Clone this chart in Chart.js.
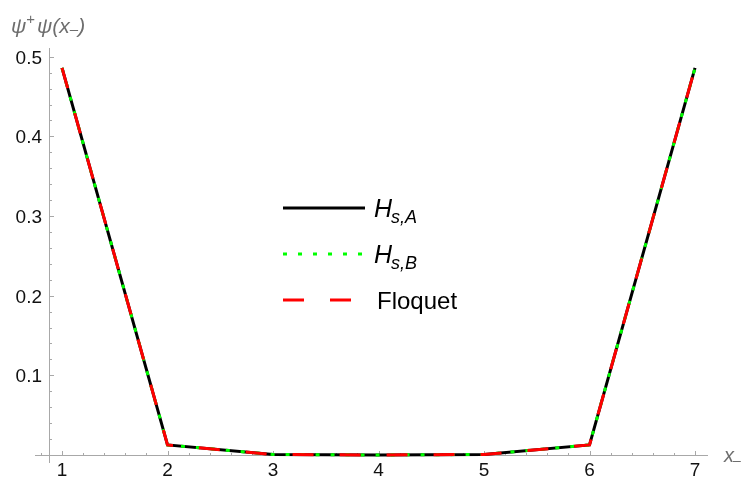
<!DOCTYPE html>
<html>
<head>
<meta charset="utf-8">
<script src="https://cdn.jsdelivr.net/npm/chart.js@4"></script>
<style>
html,body{margin:0;padding:0;background:#fff;}
canvas{display:block;}
</style>
</head>
<body>
<canvas id="c" width="742" height="479"></canvas>
<script>
// ---- data ----
const xValues = [1, 2, 3, 4, 5, 6, 7];
const hsA = [0.486, 0.0126, 0.0006, 0.0, 0.0006, 0.0126, 0.486];
const hsB = [0.486, 0.0126, 0.0006, 0.0, 0.0006, 0.0126, 0.486];
const floquet = [0.486, 0.0126, 0.0006, 0.0, 0.0006, 0.0126, 0.486];
const xTickLabels = ['1', '2', '3', '4', '5', '6', '7'];
const yTickValues = [0.1, 0.2, 0.3, 0.4, 0.5];
const yTickLabels = ['0.1', '0.2', '0.3', '0.4', '0.5'];
const seriesNames = ['H', 'H', 'Floquet'];
const seriesSubs = ['s,A', 's,B', ''];

const pts = arr => xValues.map((x, i) => ({x: x, y: arr[i]}));

const Y_AXIS_AT = 0.877;
const AXIS_COLOR = '#a8a8a8';
const LABEL_COLOR = '#6e6e6e';
const FONT = '"Liberation Sans", Arial, sans-serif';

const styles = [
  {color: '#000000', dash: []},
  {color: '#00ff00', dash: [4, 11]},
  {color: '#ff0000', dash: [21, 26]}
];

const mPlugin = {
  id: 'mathematicaAxes',
  beforeDatasetsDraw(chart) {
    const {ctx, chartArea: a, scales: {x, y}} = chart;
    ctx.save();
    ctx.strokeStyle = AXIS_COLOR;
    ctx.lineWidth = 1;
    const y0 = Math.round(y.getPixelForValue(0)) + 0.5;
    const x0 = Math.round(x.getPixelForValue(Y_AXIS_AT)) + 0.5;
    ctx.beginPath();
    ctx.moveTo(a.left, y0); ctx.lineTo(a.right, y0);
    ctx.moveTo(x0, a.top); ctx.lineTo(x0, a.bottom);
    // x ticks
    for (let k = 4; k <= 35; k++) {
      const v = k / 5;
      const px = Math.round(x.getPixelForValue(v)) + 0.5;
      const len = (k % 5 === 0) ? 4.5 : 2.5;
      ctx.moveTo(px, y0); ctx.lineTo(px, y0 - len);
    }
    // y ticks
    for (let k = 1; k <= 25; k++) {
      const v = k / 50;
      const py = Math.round(y.getPixelForValue(v)) + 0.5;
      const len = (k % 5 === 0) ? 4.5 : 2.5;
      ctx.moveTo(x0, py); ctx.lineTo(x0 + len, py);
    }
    ctx.stroke();
    ctx.restore();
  },
  afterDraw(chart) {
    const {ctx, scales: {x, y}} = chart;
    ctx.save();
    // tick labels
    ctx.fillStyle = '#111';
    ctx.font = '19px ' + FONT;
    ctx.textAlign = 'center';
    ctx.textBaseline = 'alphabetic';
    xTickLabels.forEach((t, i) => {
      ctx.fillText(t, x.getPixelForValue(xValues[i]), 476);
    });
    ctx.textAlign = 'right';
    yTickLabels.forEach((t, i) => {
      ctx.fillText(t, 42, y.getPixelForValue(yTickValues[i]) + 7);
    });
    // axis labels
    ctx.fillStyle = LABEL_COLOR;
    ctx.textAlign = 'left';
    let cx = 11;
    const big = 'italic 21px ' + FONT;
    const small = 'italic 15px ' + FONT;
    const put = (s, f, dy) => { ctx.font = f; ctx.fillText(s, cx, 33 + dy); cx += ctx.measureText(s).width; };
    put('ψ', big, 0);
    put('+', '15px ' + FONT, -9);
    cx += 2;
    put('ψ(x', big, 0);
    put('–', small, 1);
    put(')', big, 0);
    ctx.font = 'italic 20px ' + FONT;
    ctx.fillText('x', 724, 462);
    ctx.font = '14px ' + FONT;
    ctx.fillText('–', 733, 465);
    // legend
    const rows = [208, 254, 300];
    styles.forEach((s, i) => {
      ctx.save();
      ctx.strokeStyle = s.color;
      ctx.lineWidth = 3;
      ctx.setLineDash(s.dash);
      ctx.beginPath();
      ctx.moveTo(283, rows[i]); ctx.lineTo(365, rows[i]);
      ctx.stroke();
      ctx.restore();
      ctx.fillStyle = '#000';
      if (seriesSubs[i]) {
        ctx.font = 'italic 25px ' + FONT;
        ctx.fillText(seriesNames[i], 374, rows[i] + 9);
        const w = ctx.measureText(seriesNames[i]).width;
        ctx.font = 'italic 18px ' + FONT;
        ctx.fillText(seriesSubs[i], 374 + w - 1, rows[i] + 15);
      } else {
        ctx.font = '24px ' + FONT;
        ctx.fillText(seriesNames[i], 377, rows[i] + 9);
      }
    });
    ctx.restore();
  }
};

new Chart(document.getElementById('c'), {
  type: 'line',
  data: {
    datasets: [
      {label: 'Hs,A', data: pts(hsA), borderColor: styles[0].color, borderDash: styles[0].dash, borderWidth: 3, pointRadius: 0, tension: 0, order: 3},
      {label: 'Hs,B', data: pts(hsB), borderColor: styles[1].color, borderDash: styles[1].dash, borderWidth: 3, pointRadius: 0, tension: 0, order: 2},
      {label: 'Floquet', data: pts(floquet), borderColor: styles[2].color, borderDash: styles[2].dash, borderWidth: 3, pointRadius: 0, tension: 0, order: 1}
    ]
  },
  options: {
    responsive: false,
    devicePixelRatio: 1,
    animation: false,
    layout: {padding: {left: 35, right: 34, top: 48, bottom: 16}},
    plugins: {legend: {display: false}, tooltip: {enabled: false}},
    scales: {
      x: {type: 'linear', min: 0.744, max: 7.123, display: false},
      y: {type: 'linear', min: -0.0101, max: 0.511, display: false}
    }
  },
  plugins: [mPlugin]
});
</script>
</body>
</html>
